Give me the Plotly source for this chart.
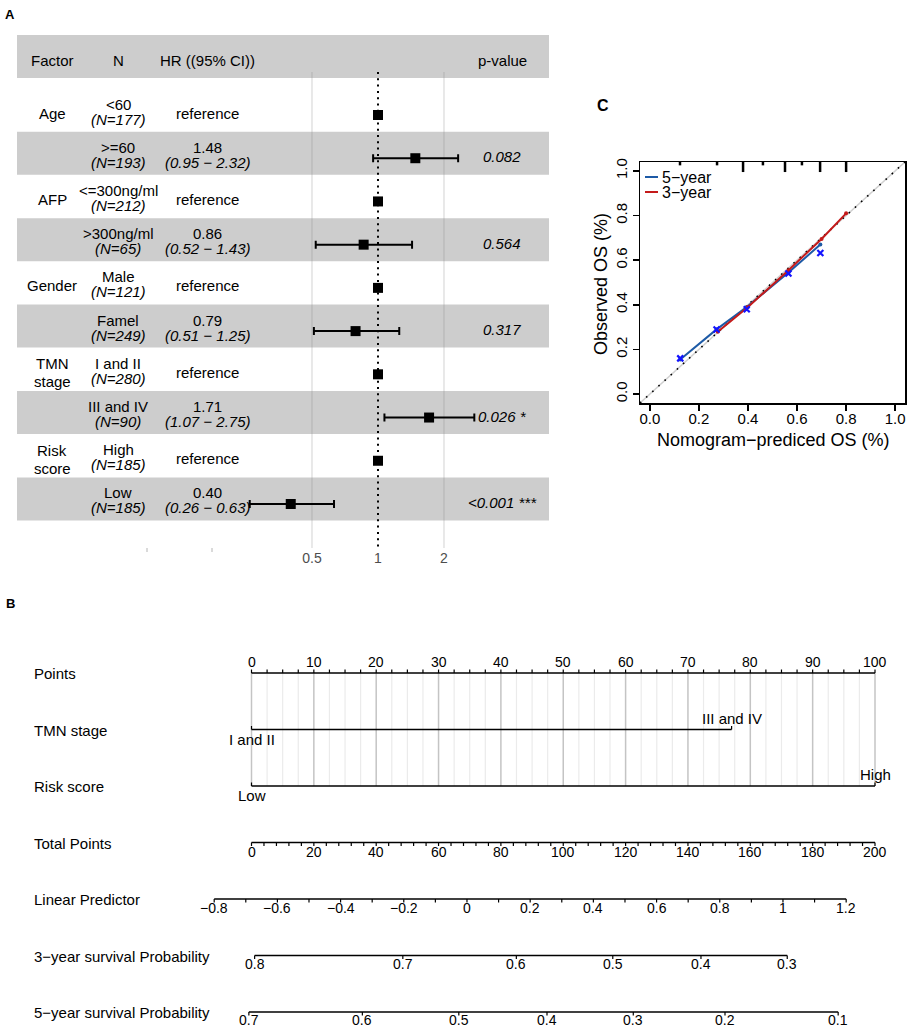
import math
import plotly.graph_objects as go

W, H = 909, 1028          # page size of the reference
FONT = "Liberation Sans, Arial, Helvetica, sans-serif"

# ---------------- Panel A: forest plot data ----------------
variables = ["Age", "AFP", "Gender", "TMN stage", "Risk score"]
levels = ["<60", ">=60", "<=300ng/ml", ">300ng/ml", "Male", "Famel",
          "I and II", "III and IV", "High", "Low"]
n_patients = [177, 193, 212, 65, 121, 249, 280, 90, 185, 185]
hazard_ratio = [1.0, 1.48, 1.0, 0.86, 1.0, 0.79, 1.0, 1.71, 1.0, 0.40]
ci_lower = [None, 0.95, None, 0.52, None, 0.51, None, 1.07, None, 0.26]
ci_upper = [None, 2.32, None, 1.43, None, 1.25, None, 2.75, None, 0.63]
p_values = [None, "0.082", None, "0.564", None, "0.317", None, "0.026 *", None, "<0.001 ***"]
hr_ticks = [0.5, 1, 2]

# ---------------- Panel B: nomogram data ----------------
points_ticks = [0, 10, 20, 30, 40, 50, 60, 70, 80, 90, 100]
points_minor_step = 2.5
tmn_levels = ["I and II", "III and IV"]
tmn_points = [0, 77]
risk_levels = ["Low", "High"]
risk_points = [0, 100]
total_points_ticks = [0, 20, 40, 60, 80, 100, 120, 140, 160, 180, 200]
total_minor_step = 4
lp_ticks = [-0.8, -0.6, -0.4, -0.2, 0, 0.2, 0.4, 0.6, 0.8, 1, 1.2]
lp_minor_step = 0.1
points_at_lp0 = 34.56      # nomogram points corresponding to linear predictor 0
points_per_lp = 50.68      # nomogram points per unit of linear predictor
surv3_ticks = [0.8, 0.7, 0.6, 0.5, 0.4, 0.3]
surv5_ticks = [0.7, 0.6, 0.5, 0.4, 0.3, 0.2, 0.1]
baseline_surv3 = 0.646
baseline_surv5 = 0.491

# ---------------- Panel C: calibration data ----------------
pred_5yr = [0.124, 0.272, 0.395, 0.565, 0.695]
obs_5yr = [0.155, 0.290, 0.390, 0.545, 0.670]
obs_5yr_corrected = [0.160, 0.289, 0.380, 0.540, 0.632]
pred_3yr = [0.277, 0.400, 0.565, 0.700, 0.800]
obs_3yr = [0.279, 0.390, 0.555, 0.695, 0.810]
rug_pred = [0.123, 0.274, 0.380, 0.461, 0.551, 0.620, 0.694, 0.800]
rug_count = [1, 1, 2, 1, 2, 1, 2, 2]
cal_ticks = [0.0, 0.2, 0.4, 0.6, 0.8, 1.0]


def esc(s):
    return s.replace("&", "&amp;").replace("<", "&lt;").replace(">", "&gt;")


ann = []
shapes = []


def add_text(x, y, text, size=15, xref="paper", yref="paper", xanchor="center",
             yshift=0, color="black", bold=False, italic=False, angle=0):
    t = esc(text)
    if italic:
        t = "<i>" + t + "</i>"
    if bold:
        t = "<b>" + t + "</b>"
    ann.append(dict(x=x, y=y, xref=xref, yref=yref, text=t, showarrow=False,
                    xanchor=xanchor, yanchor="middle", yshift=yshift, textangle=angle,
                    borderpad=0, font=dict(family=FONT, size=size, color=color)))


def pxp(p):
    return p / W


def pyp(p):
    return 1 - p / H


fig = go.Figure()

# ======================= Panel A =======================
ROW0, STEP = 115.0, 43.22


def frow(p):
    return 1 + (p - ROW0) / STEP


rows = list(range(1, len(levels) + 1))
PX_PER_DEC = 66 / math.log10(2)
HR1_PX = 378.0

shapes.append(dict(type="rect", xref="paper", yref="paper", x0=pxp(17), x1=pxp(549),
                   y0=pyp(78), y1=pyp(35), fillcolor="#cdcdcd", line=dict(width=0), layer="below"))
for i in rows:
    if i % 2 == 0:
        shapes.append(dict(type="rect", xref="paper", yref="y", x0=pxp(17), x1=pxp(549),
                           y0=i - 26.5 / STEP, y1=i + 16.5 / STEP, fillcolor="#cdcdcd",
                           line=dict(width=0), layer="below"))

gx, gy = [], []
for t in hr_ticks:
    if t != 1:
        gx += [t, t, None]
        gy += [frow(72), frow(548), None]
fig.add_trace(go.Scatter(x=gx, y=gy, mode="lines", xaxis="x", yaxis="y",
                         line=dict(color="rgba(138,138,138,0.3)", width=1.3),
                         hoverinfo="skip", showlegend=False))
fig.add_trace(go.Scatter(x=[1, 1], y=[frow(72), frow(548)], mode="lines", xaxis="x", yaxis="y",
                         line=dict(color="black", width=2, dash="2px,4.3px"),
                         hoverinfo="skip", showlegend=False))

ref_idx = [k for k in range(len(levels)) if ci_lower[k] is None]
ci_idx = [k for k in range(len(levels)) if ci_lower[k] is not None]
fig.add_trace(go.Scatter(
    x=[hazard_ratio[k] for k in ci_idx], y=[rows[k] for k in ci_idx], mode="markers",
    xaxis="x", yaxis="y",
    marker=dict(symbol="square", size=10, color="black"),
    error_x=dict(type="data", symmetric=False,
                 array=[ci_upper[k] - hazard_ratio[k] for k in ci_idx],
                 arrayminus=[hazard_ratio[k] - ci_lower[k] for k in ci_idx],
                 color="black", thickness=2, width=4),
    showlegend=False, hoverinfo="skip"))
fig.add_trace(go.Scatter(
    x=[hazard_ratio[k] for k in ref_idx], y=[rows[k] for k in ref_idx], mode="markers",
    xaxis="x", yaxis="y", marker=dict(symbol="square", size=10, color="black"),
    showlegend=False, hoverinfo="skip"))

XF, XN, XHR, XP = 52, 118, 207, 502
hy = pyp(60)
add_text(pxp(XF), hy, "Factor")
add_text(pxp(XN), hy, "N")
add_text(pxp(XHR), hy, "HR ((95% CI))")
add_text(pxp(XP), hy, "p-value")

for k, i in enumerate(rows):
    if k % 2 == 0:
        parts = variables[k // 2].split(" ")
        if len(parts) == 1:
            add_text(pxp(XF), i, parts[0], yref="y", yshift=2)
        else:
            add_text(pxp(XF), i, parts[0], yref="y", yshift=10.5)
            add_text(pxp(XF), i, parts[1], yref="y", yshift=-7.5)
    add_text(pxp(XN), i, levels[k], yref="y", yshift=11)
    add_text(pxp(XN), i, "(N=%d)" % n_patients[k], yref="y", yshift=-4, italic=True)
    if ci_lower[k] is None:
        add_text(pxp(XHR), i, "reference", yref="y", yshift=2)
    else:
        add_text(pxp(XHR), i, "%.2f" % hazard_ratio[k], yref="y", yshift=11)
        add_text(pxp(XHR), i, "(%.2f \u2212 %.2f)" % (ci_lower[k], ci_upper[k]),
                 yref="y", yshift=-4, italic=True)
    if p_values[k]:
        add_text(pxp(XP), i, p_values[k], yref="y", yshift=1.5, italic=True)

for xm in (147, 212):
    shapes.append(dict(type="line", xref="paper", yref="paper", x0=pxp(xm), x1=pxp(xm),
                       y0=pyp(552), y1=pyp(548), line=dict(color="#b5b5b5", width=1)))

add_text(pxp(10), pyp(14.5), "A", size=13, bold=True)

# ======================= Panel C =======================
fig.add_trace(go.Scatter(x=[-0.04, 1.04], y=[-0.04, 1.04], mode="lines", xaxis="x2", yaxis="y2",
                         line=dict(color="#d0d0d0", width=1.5), hoverinfo="skip", showlegend=False))
fig.add_trace(go.Scatter(x=[-0.04, 1.04], y=[-0.04, 1.04], mode="lines", xaxis="x2", yaxis="y2",
                         line=dict(color="black", width=1.6, dash="1.6px,6.7px"),
                         hoverinfo="skip", showlegend=False))
BLUE, RED = "#1d5aa6", "#c41a1a"
fig.add_trace(go.Scatter(x=pred_5yr, y=obs_5yr, mode="lines+markers", xaxis="x2", yaxis="y2",
                         line=dict(color=BLUE, width=2), marker=dict(size=4, color=BLUE),
                         hoverinfo="skip", showlegend=False))
fig.add_trace(go.Scatter(x=pred_3yr, y=obs_3yr, mode="lines+markers", xaxis="x2", yaxis="y2",
                         line=dict(color=RED, width=2), marker=dict(size=4, color=RED),
                         hoverinfo="skip", showlegend=False))
fig.add_trace(go.Scatter(x=pred_5yr, y=obs_5yr_corrected, mode="markers", xaxis="x2", yaxis="y2",
                         marker=dict(symbol="x-thin", size=6, color="#1414ff",
                                     line=dict(width=2.2, color="#1414ff")),
                         hoverinfo="skip", showlegend=False))
rx, ry = [], []
for v, c in zip(rug_pred, rug_count):
    rx += [v, v, None]
    ry += [1.045, 1.045 - (0.02 if c == 1 else 0.05), None]
fig.add_trace(go.Scatter(x=rx, y=ry, mode="lines", xaxis="x2", yaxis="y2", cliponaxis=False,
                         line=dict(color="black", width=2.5), hoverinfo="skip", showlegend=False))

for yy, lab, col in ((177, "5\u2212year", BLUE), (192, "3\u2212year", RED)):
    shapes.append(dict(type="line", xref="paper", yref="paper", x0=pxp(645), x1=pxp(658),
                       y0=pyp(yy), y1=pyp(yy), line=dict(color=col, width=2)))
    add_text(pxp(661), pyp(yy), lab, size=16, xanchor="left")

add_text(pxp(773), pyp(440), "Nomogram\u2212prediced OS (%)", size=18)
add_text(pxp(601), pyp(284), "Observed OS (%)", size=18, angle=-90)
add_text(pxp(603), pyp(106), "C", size=16, bold=True)

# ======================= Panel B =======================
B0, BSTEP = 673.0, 56.5


def brow(p):
    return (p - B0) / BSTEP


PT0_PX, PX_PER_PT = 251.5, 6.235
TICK = 3.5 / BSTEP


def lp_to_points(lp):
    return points_at_lp0 + points_per_lp * lp


def surv_to_points(p, s0):
    return lp_to_points(math.log(math.log(p) / math.log(s0)))


gminx, gminy, gmajx, gmajy = [], [], [], []
v = 0.0
while v <= points_ticks[-1] + 1e-9:
    if abs(v % 10) < 1e-9:
        gmajx += [v, v, None]
        gmajy += [0, 2, None]
    else:
        gminx += [v, v, None]
        gminy += [0, 2, None]
    v += points_minor_step
fig.add_trace(go.Scatter(x=gminx, y=gminy, mode="lines", xaxis="x3", yaxis="y3",
                         line=dict(color="#ebebeb", width=1.2), hoverinfo="skip", showlegend=False))
fig.add_trace(go.Scatter(x=gmajx, y=gmajy, mode="lines", xaxis="x3", yaxis="y3",
                         line=dict(color="#c4c4c4", width=1.5), hoverinfo="skip", showlegend=False))

axx, axy, tkx, tky = [], [], [], []


def axis_row(row, xs_major, labels, minor_xs, up, lab_shift):
    axx.extend([min(xs_major + minor_xs), max(xs_major + minor_xs), None])
    axy.extend([row, row, None])
    d = -TICK if up else TICK
    for x in xs_major + minor_xs:
        tkx.extend([x, x, None])
        tky.extend([row, row + d, None])
    for x, lab in zip(xs_major, labels):
        add_text(x, row, lab, size=14, xref="x3", yref="y3", yshift=lab_shift)


def fmt(v):
    return ("%g" % v).replace("-", "\u2212")


pminor = []
v = 0.0
while v <= points_ticks[-1] + 1e-9:
    if abs(v % 10) > 1e-9:
        pminor.append(v)
    v += points_minor_step
axis_row(0, list(points_ticks), [str(t) for t in points_ticks], pminor, True, 11)

axx.extend([tmn_points[0], tmn_points[-1], None]); axy.extend([1, 1, None])
for x in tmn_points:
    tkx.extend([x, x, None]); tky.extend([1, 1 - TICK, None])
add_text(tmn_points[0], 1, tmn_levels[0], size=15, xref="x3", yref="y3", yshift=-9.5)
add_text(tmn_points[1], 1, tmn_levels[1], size=15, xref="x3", yref="y3", yshift=11)
axx.extend([risk_points[0], risk_points[-1], None]); axy.extend([2, 2, None])
for x in risk_points:
    tkx.extend([x, x, None]); tky.extend([2, 2 - TICK, None])
add_text(risk_points[0], 2, risk_levels[0], size=15, xref="x3", yref="y3", yshift=-9.5)
add_text(risk_points[1], 2, risk_levels[1], size=15, xref="x3", yref="y3", yshift=11.5)

tminor = []
v = 0
while v <= total_points_ticks[-1]:
    if v % 20 != 0:
        tminor.append(v / 2)
    v += total_minor_step
axis_row(3, [t / 2 for t in total_points_ticks], [str(t) for t in total_points_ticks],
         tminor, False, -9)

lminor = [lp_to_points(lp_ticks[j] + lp_minor_step) for j in range(len(lp_ticks) - 1)]
axis_row(4, [lp_to_points(t) for t in lp_ticks], [fmt(t) for t in lp_ticks], lminor, False, -8.5)

axis_row(5, [surv_to_points(p, baseline_surv3) for p in surv3_ticks],
         [fmt(p) for p in surv3_ticks], [], False, -8)
axis_row(6, [surv_to_points(p, baseline_surv5) for p in surv5_ticks],
         [fmt(p) for p in surv5_ticks], [], False, -8)

fig.add_trace(go.Scatter(x=axx, y=axy, mode="lines", xaxis="x3", yaxis="y3",
                         line=dict(color="black", width=1.5), hoverinfo="skip", showlegend=False))
fig.add_trace(go.Scatter(x=tkx, y=tky, mode="lines", xaxis="x3", yaxis="y3",
                         line=dict(color="black", width=1.2), hoverinfo="skip", showlegend=False))

row_labels = ["Points", "TMN stage", "Risk score", "Total Points", "Linear Predictor",
              "3\u2212year survival Probability", "5\u2212year survival Probability"]
for r, lab in enumerate(row_labels):
    add_text(pxp(33), r, lab, size=15, yref="y3", xanchor="left", yshift=-0.5)

add_text(pxp(10), pyp(603), "B", size=13, bold=True)

# ======================= Layout =======================
axis_common = dict(showgrid=False, zeroline=False, fixedrange=True)
fig.update_layout(
    width=W, height=H, margin=dict(l=0, r=0, t=0, b=0),
    paper_bgcolor="white", plot_bgcolor="rgba(0,0,0,0)", template="none",
    showlegend=False, font=dict(family=FONT, color="black"),
    xaxis=dict(type="log", domain=[pxp(17), pxp(550)],
               range=[(17 - HR1_PX) / PX_PER_DEC, (550 - HR1_PX) / PX_PER_DEC],
               tickvals=hr_ticks, ticktext=[str(t) for t in hr_ticks], showline=False, ticks="",
               tickfont=dict(family=FONT, size=14, color="#4d4d4d"), anchor="y", **axis_common),
    yaxis=dict(domain=[pyp(548), pyp(30)], range=[frow(548), frow(30)], visible=False,
               anchor="x", **axis_common),
    xaxis2=dict(domain=[pxp(640), pxp(905)], range=[-0.04, 1.04], anchor="y2",
                showline=True, mirror=True, linecolor="black", linewidth=1.5,
                ticks="outside", ticklen=6, tickwidth=1.5, tickcolor="black",
                ticklabelstandoff=-5,
                tickvals=cal_ticks, ticktext=["%.1f" % t for t in cal_ticks],
                tickfont=dict(family=FONT, size=15, color="black"), **axis_common),
    yaxis2=dict(domain=[pyp(403), pyp(162)], range=[-0.04, 1.04], anchor="x2",
                showline=True, mirror=True, linecolor="black", linewidth=1.5,
                ticks="outside", ticklen=6, tickwidth=1.5, tickcolor="black", tickangle=-90,
                tickvals=cal_ticks, ticktext=["%.1f" % t for t in cal_ticks],
                tickfont=dict(family=FONT, size=15, color="black"), **axis_common),
    xaxis3=dict(domain=[0, 1],
                range=[-PT0_PX / PX_PER_PT, (W - PT0_PX) / PX_PER_PT],
                anchor="y3", visible=False, **axis_common),
    yaxis3=dict(domain=[0, pyp(640)], range=[brow(H), brow(640)], anchor="x3",
                visible=False, **axis_common),
    annotations=ann, shapes=shapes,
)

PAGE_CSS = ("var s=document.createElement('style');"
            "s.innerHTML='html,body{margin:0;padding:0;overflow:hidden;}';"
            "document.head.appendChild(s);")
fig.write_html("out.html", post_script=PAGE_CSS,
               config={"displayModeBar": False, "staticPlot": True})
